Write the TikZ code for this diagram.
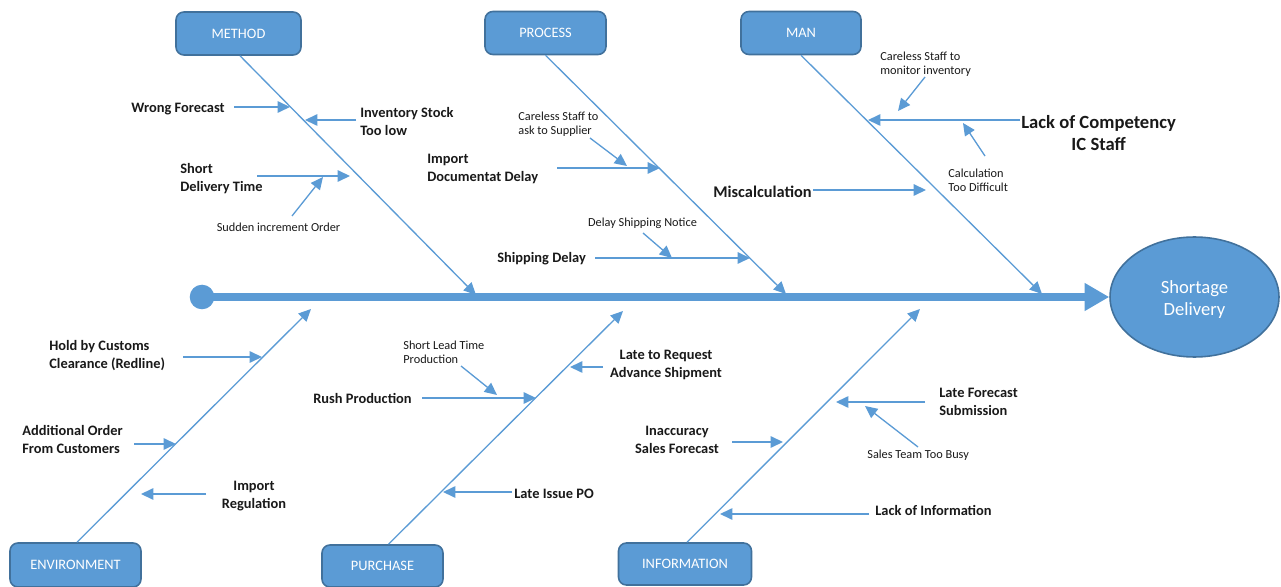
\documentclass[tikz,border=0pt]{standalone}
\usepackage{fontspec}
\setmainfont{Carlito}
\usetikzlibrary{arrows.meta,shapes.geometric,calc}

\definecolor{fishblue}{HTML}{5B9BD5}
\definecolor{fishedge}{HTML}{41719C}

\tikzset{
  category/.style={draw=fishedge, line width=0.9pt, fill=fishblue, rounded corners=4.5pt,
    text=white, font=\fontsize{8.2}{10}\selectfont, minimum height=0.86cm, inner sep=0pt},
  bone/.style={draw=fishblue, line width=0.75pt, -{Triangle[length=7pt,width=6.5pt]}},
  reason/.style={font=\bfseries\fontsize{8.2}{10.2}\selectfont, inner sep=0pt, text=black!90, yshift=-1pt},
  detail/.style={font=\fontsize{7}{8}\selectfont, inner sep=0pt, text=black!90, yshift=-0.6pt},
}

\begin{document}
\begin{tikzpicture}[x=0.02cm, y=-0.02cm]
\useasboundingbox (0,0) rectangle (1281,587);

% categories
\node[category, minimum width=2.5cm] (met) at (238.5,33.5) {METHOD};
\node[category, minimum width=2.42cm] (pro) at (545.5,33) {PROCESS};
\node[category, minimum width=2.4cm] (man) at (801,33) {MAN};
\node[category, minimum width=2.62cm, minimum height=0.88cm] (env) at (75.5,565) {ENVIRONMENT};
\node[category, minimum width=2.42cm, minimum height=0.84cm] (pur) at (382.5,566) {PURCHASE};
\node[category, minimum width=2.66cm, minimum height=0.84cm] (inf) at (685,564) {INFORMATION};

% tail, head and spine
\node[circle, fill=fishblue, minimum size=14pt, inner sep=0pt] (tail) at (202,297) {};
\node[ellipse, draw=fishedge, line width=0.9pt, fill=fishblue, minimum width=3.38cm,
  minimum height=2.4cm, inner sep=0pt, text=white, align=center,
  font=\fontsize{10.6}{12.5}\selectfont] (eff) at (1194.5,297) {};
\node[text=white, align=center, font=\fontsize{10.6}{12.5}\selectfont, inner sep=0pt]
  (efftext) at ($(eff.center)+(0,3)$) {Shortage\\Delivery};
\draw[fishblue, line width=4.8pt, -{Triangle[length=14pt,width=15pt]}] (tail.center) -- (eff.west);

% bones
\coordinate (met-tip) at (476,295);
\coordinate (pro-tip) at (786,294);
\coordinate (man-tip) at (1042,294);
\coordinate (env-tip) at (311,309);
\coordinate (pur-tip) at (623,311);
\coordinate (inf-tip) at (920,309);
\draw[bone] ($(met.south)+(1.5,0)$) -- (met-tip);
\draw[bone] (pro.south) -- (pro-tip);
\draw[bone] (man.south) -- (man-tip);
\draw[bone] ($(env.north)+(1.5,0)$) -- (env-tip);
\draw[bone] ($(pur.north)+(6,0)$) -- (pur-tip);
\draw[bone] ($(inf.north)+(2,0)$) -- (inf-tip);

% method causes
\node[reason, anchor=east] (wf) at (225,107) {Wrong Forecast};
\node[reason, anchor=west, align=left] (is) at (360,119.5) {Inventory Stock\\Too low};
\node[reason, anchor=west, align=left] (sd) at (180,177) {Short\\Delivery Time};
\node[detail] (so) at (278.5,226) {Sudden increment Order};
\coordinate (wf1) at (234,107); \coordinate (wf2) at (290,107);
\coordinate (is1) at (356,120); \coordinate (is2) at (305,120);
\coordinate (sd1) at (257,176); \coordinate (sd2) at (350,176);
\coordinate (so1) at (292,216); \coordinate (so2) at (323,177);
\draw[bone] (wf1) -- (wf2);
\draw[bone] (is1) -- (is2);
\draw[bone] (sd1) -- (sd2);
\draw[bone] (so1) -- (so2);

% process causes
\node[detail, anchor=west, align=left] (cs) at (518,123) {Careless Staff to\\ask to Supplier};
\node[reason, anchor=west, align=left] (id) at (427,167) {Import\\Documentat Delay};
\node[detail] (dn) at (642.5,222) {Delay Shipping Notice};
\node[reason, anchor=west] (sh) at (497,257) {Shipping Delay};
\coordinate (cs1) at (590,138); \coordinate (cs2) at (627,166);
\coordinate (id1) at (557,168); \coordinate (id2) at (660,168);
\coordinate (dn1) at (643,233); \coordinate (dn2) at (672,258);
\coordinate (sh1) at (595,258); \coordinate (sh2) at (750,258);
\draw[bone] (cs1) -- (cs2);
\draw[bone] (id1) -- (id2);
\draw[bone] (dn1) -- (dn2);
\draw[bone] (sh1) -- (sh2);

% man causes
\node[detail, anchor=west, align=left] (cm) at (880,63) {Careless Staff to\\monitor inventory};
\node[reason, anchor=west, align=center, font=\bfseries\fontsize{10.6}{12.5}\selectfont] (lc) at (1021,131) {Lack of Competency\\IC Staff};
\node[detail, anchor=west, align=left] (cd) at (948,179) {Calculation\\Too Difficult};
\node[reason, anchor=west, font=\bfseries\fontsize{9.3}{11}\selectfont] (mc) at (713,190) {Miscalculation};
\coordinate (cm1) at (925,77); \coordinate (cm2) at (898,111);
\coordinate (lc1) at (1020,120); \coordinate (lc2) at (868,120);
\coordinate (cd1) at (985,156); \coordinate (cd2) at (963,123);
\coordinate (mc1) at (813,190); \coordinate (mc2) at (926,190);
\draw[bone] (cm1) -- (cm2);
\draw[bone] (lc1) -- (lc2);
\draw[bone] (cd1) -- (cd2);
\draw[bone] (mc1) -- (mc2);

% environment causes
\node[reason, anchor=west, align=left] (hc) at (49,354) {Hold by Customs\\Clearance (Redline)};
\node[reason, anchor=west, align=left] (ao) at (22,438) {Additional Order\\From Customers};
\node[reason, align=center] (ir) at (254,494) {Import\\Regulation};
\coordinate (hc1) at (183,357); \coordinate (hc2) at (262,357);
\coordinate (ao1) at (134,444); \coordinate (ao2) at (176,444);
\coordinate (ir1) at (206,494); \coordinate (ir2) at (141,494);
\draw[bone] (hc1) -- (hc2);
\draw[bone] (ao1) -- (ao2);
\draw[bone] (ir1) -- (ir2);

% purchase causes
\node[detail, anchor=west, align=left] (sl) at (403,351.5) {Short Lead Time\\Production};
\node[reason, anchor=east] (rp) at (412,397) {Rush Production};
\node[reason, align=center] (lr) at (666,363) {Late to Request\\Advance Shipment};
\node[reason, anchor=west] (lp) at (514,492) {Late Issue PO};
\coordinate (sl1) at (461,366); \coordinate (sl2) at (497,395);
\coordinate (rp1) at (422,398); \coordinate (rp2) at (536,398);
\coordinate (lr1) at (603,367); \coordinate (lr2) at (570,367);
\coordinate (lp1) at (512,492); \coordinate (lp2) at (443,492);
\draw[bone] (sl1) -- (sl2);
\draw[bone] (rp1) -- (rp2);
\draw[bone] (lr1) -- (lr2);
\draw[bone] (lp1) -- (lp2);

% information causes
\node[reason, anchor=west, align=left] (lf) at (939,400.5) {Late Forecast\\Submission};
\node[detail, anchor=west] (st) at (867,454) {Sales Team Too Busy};
\node[reason, align=center] (ia) at (677,438.5) {Inaccuracy\\Sales Forecast};
\node[reason, anchor=west] (li) at (875,509) {Lack of Information};
\coordinate (lf1) at (925,402); \coordinate (lf2) at (836,402);
\coordinate (st1) at (918,447); \coordinate (st2) at (865,406);
\coordinate (ia1) at (732,442); \coordinate (ia2) at (783,442);
\coordinate (li1) at (869,514); \coordinate (li2) at (720,514);
\draw[bone] (lf1) -- (lf2);
\draw[bone] (st1) -- (st2);
\draw[bone] (ia1) -- (ia2);
\draw[bone] (li1) -- (li2);
\end{tikzpicture}
\end{document}
